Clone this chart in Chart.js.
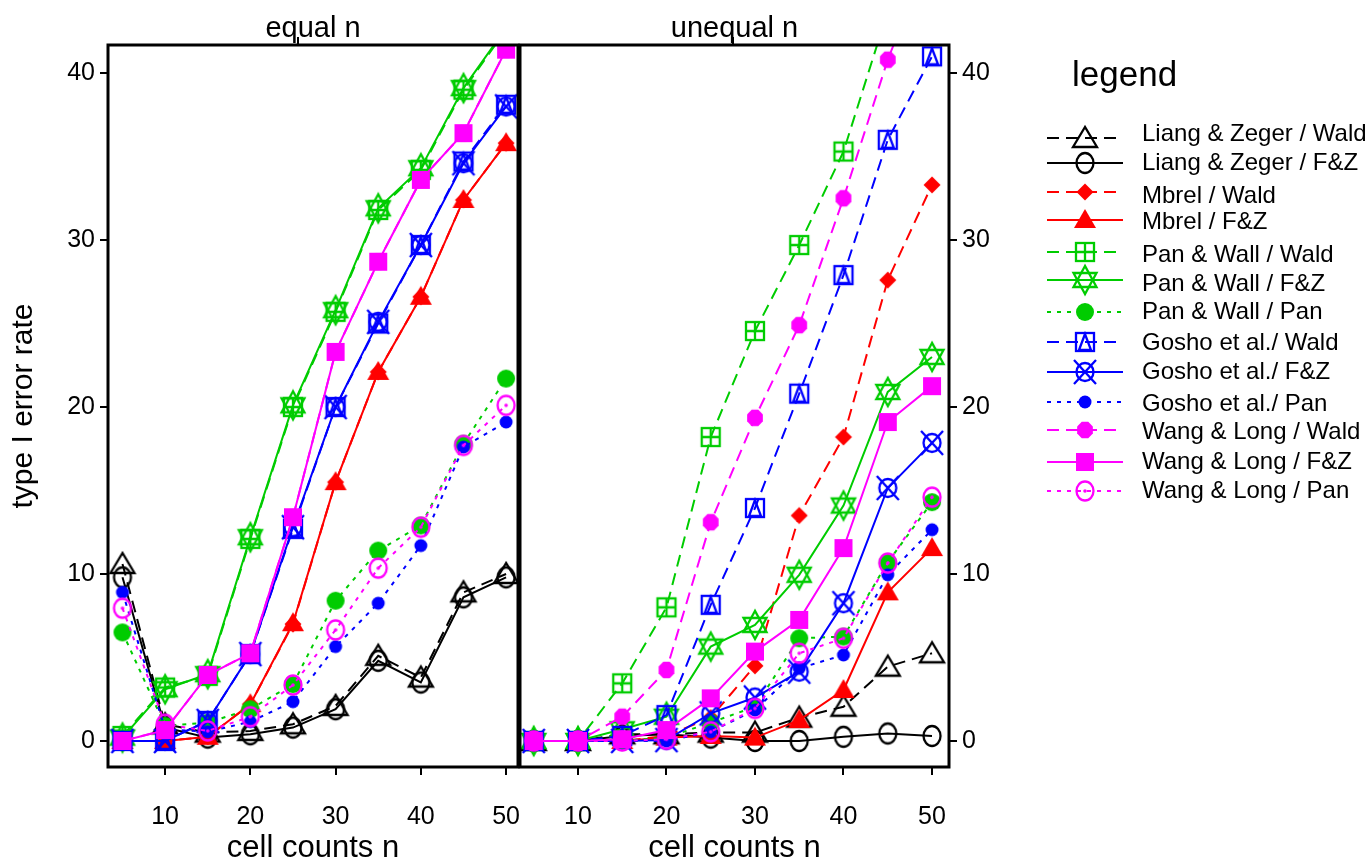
<!DOCTYPE html>
<html lang="en">
<head>
<meta charset="UTF-8">
<title>type I error rate - equal n / unequal n</title>
<script src="https://cdn.jsdelivr.net/npm/chart.js"></script>
<style>
    body { margin: 0; background: #ffffff; }
    #wrap { position: relative; width: 1371px; height: 864px; overflow: hidden; }
    #left { position: absolute; left: 0; top: 0; width: 520px; height: 864px; }
    #right { position: absolute; left: 518px; top: 0; width: 853px; height: 864px; }
</style>
</head>
<body>
<div id="wrap">
    <canvas id="left" width="520" height="864"></canvas>
    <canvas id="right" width="853" height="864"></canvas>
</div>
<script>
// x values (cell counts) and axis ticks
const cellCounts = [5, 10, 15, 20, 25, 30, 35, 40, 45, 50];
const xTickValues = [10, 20, 30, 40, 50];
const yTickValues = [0, 10, 20, 30, 40];

const seriesLabels = [
    'Liang & Zeger / Wald', 'Liang & Zeger / F&Z',
    'Mbrel / Wald', 'Mbrel / F&Z',
    'Pan & Wall / Wald', 'Pan & Wall / F&Z', 'Pan & Wall / Pan',
    'Gosho et al./ Wald', 'Gosho et al./ F&Z', 'Gosho et al./ Pan',
    'Wang & Long / Wald', 'Wang & Long / F&Z', 'Wang & Long / Pan'
];

// equal n
const eqLiangWald = [10.6, 1.0, 0.5, 0.6, 1.0, 2.1, 5.1, 3.8, 8.9, 10.0];
const eqLiangFZ   = [9.8, 0.8, 0.2, 0.4, 0.8, 1.9, 4.8, 3.5, 8.6, 9.8];
const eqMbrelWald = [0, 0, 0.25, 2.2, 7.0, 15.5, 22.1, 26.6, 32.4, 35.8];
const eqMbrelFZ   = [0, 0, 0.25, 2.2, 7.05, 15.5, 22.1, 26.6, 32.4, 35.8];
const eqPanWald   = [0.3, 3.2, 3.9, 12.1, 20.0, 25.7, 31.8, 34.2, 39.0, 42.6];
const eqPanFZ     = [0.2, 3.1, 4.0, 12.2, 20.1, 25.8, 31.9, 34.3, 39.1, 42.7];
const eqPanPan    = [6.5, 0.9, 1.1, 1.9, 3.4, 8.4, 11.4, 12.9, 17.8, 21.7];
const eqGoshoWald = [0, 0, 1.2, 5.2, 12.7, 20.0, 25.0, 29.7, 34.7, 38.1];
const eqGoshoFZ   = [0, 0, 1.2, 5.2, 12.8, 20.0, 25.1, 29.7, 34.6, 38.0];
const eqGoshoPan  = [8.9, 0.7, 0.55, 1.15, 2.35, 5.65, 8.25, 11.7, 17.6, 19.1];
const eqWangWald  = [0, 0.65, 3.95, 5.25, 13.4, 23.3, 28.7, 33.6, 36.4, 41.4];
const eqWangFZ    = [0, 0.65, 3.95, 5.25, 13.4, 23.3, 28.7, 33.6, 36.4, 41.4];
const eqWangPan   = [7.95, 1.0, 0.6, 1.45, 3.35, 6.65, 10.35, 12.8, 17.7, 20.1];

// unequal n
const unLiangWald = [0, 0, 0.4, 0.4, 0.5, 0.5, 1.4, 2.05, 4.45, 5.25];
const unLiangFZ   = [0, 0, 0.3, 0.4, 0.2, 0, 0, 0.25, 0.45, 0.3];
const unMbrelWald = [0, 0, 0, 0.3, 1.4, 4.5, 13.5, 18.2, 27.6, 33.3];
const unMbrelFZ   = [0, 0, 0, 0.2, 0.3, 0.2, 1.25, 3.05, 8.9, 11.55];
const unPanWald   = [0, 0, 3.45, 8.0, 18.2, 24.55, 29.7, 35.3, 43.7, 50.5];
const unPanFZ     = [0, 0, 0.7, 1.45, 5.65, 6.95, 9.95, 14.1, 20.9, 23.0];
const unPanPan    = [0, 0, 0, 0.2, 1.1, 2.05, 6.15, 6.25, 10.7, 14.3];
const unGoshoWald = [0, 0, 0.3, 1.55, 8.15, 13.95, 20.8, 27.9, 36.0, 41.0];
const unGoshoFZ   = [0, 0, 0, 0.05, 1.65, 2.6, 4.15, 8.25, 15.15, 17.85];
const unGoshoPan  = [0, 0, 0, 0, 0.55, 1.85, 4.35, 5.15, 9.95, 12.65];
const unWangWald  = [0, 0, 1.45, 4.25, 13.1, 19.35, 24.9, 32.5, 40.8, 47.5];
const unWangFZ    = [0, 0, 0.1, 0.65, 2.55, 5.35, 7.25, 11.55, 19.1, 21.25];
const unWangPan   = [0, 0, 0, 0.1, 0.55, 1.95, 5.25, 6.15, 10.65, 14.6];

const equalSeries = [eqLiangWald, eqLiangFZ, eqMbrelWald, eqMbrelFZ, eqPanWald, eqPanFZ, eqPanPan,
    eqGoshoWald, eqGoshoFZ, eqGoshoPan, eqWangWald, eqWangFZ, eqWangPan];
const unequalSeries = [unLiangWald, unLiangFZ, unMbrelWald, unMbrelFZ, unPanWald, unPanFZ, unPanPan,
    unGoshoWald, unGoshoFZ, unGoshoPan, unWangWald, unWangFZ, unWangPan];

const FONT = '"Liberation Sans", Arial, sans-serif';
Chart.defaults.font.family = FONT;
Chart.defaults.color = '#000';

const BLACK = '#000000', RED = '#ff0000', GREEN = '#00cc00', BLUE = '#0000ff', MAGENTA = '#ff00ff';
const DASH = [12, 7], DOT = [4, 6], SOLID = [];

const styles = [
    { color: BLACK, dash: DASH, marker: 'triOpen' },
    { color: BLACK, dash: SOLID, marker: 'circOpen' },
    { color: RED, dash: DASH, marker: 'diamond' },
    { color: RED, dash: SOLID, marker: 'triFill' },
    { color: GREEN, dash: DASH, marker: 'squarePlus' },
    { color: GREEN, dash: SOLID, marker: 'star' },
    { color: GREEN, dash: DOT, marker: 'circFill' },
    { color: BLUE, dash: DASH, marker: 'squareTri' },
    { color: BLUE, dash: SOLID, marker: 'circX' },
    { color: BLUE, dash: DOT, marker: 'dot' },
    { color: MAGENTA, dash: DASH, marker: 'octagon' },
    { color: MAGENTA, dash: SOLID, marker: 'squareFill' },
    { color: MAGENTA, dash: DOT, marker: 'circDot' }
];

// marker images used as pointStyle
function makeMarker(kind, color) {
    const s = 34, c = s / 2;
    const cv = document.createElement('canvas');
    cv.width = s; cv.height = s;
    const g = cv.getContext('2d');
    g.strokeStyle = color; g.fillStyle = color; g.lineWidth = 2.3;
    const poly = (pts, fill) => {
        g.beginPath();
        pts.forEach(([x, y], i) => i ? g.lineTo(c + x, c + y) : g.moveTo(c + x, c + y));
        g.closePath();
        fill ? g.fill() : g.stroke();
    };
    const ell = (rx, ry, fill) => {
        g.beginPath(); g.ellipse(c, c, rx, ry, 0, 0, Math.PI * 2);
        fill ? g.fill() : g.stroke();
    };
    switch (kind) {
        case 'triOpen': poly([[0, -11], [-12, 9], [12, 9]]); break;
        case 'circOpen': ell(8.5, 10); break;
        case 'diamond': poly([[0, -8.5], [8.5, 0], [0, 8.5], [-8.5, 0]], true); break;
        case 'triFill': poly([[0, -11], [-11, 8], [11, 8]], true); break;
        case 'squarePlus':
            g.strokeRect(c - 9, c - 9, 18, 18);
            g.beginPath(); g.moveTo(c, c - 9); g.lineTo(c, c + 9);
            g.moveTo(c - 9, c); g.lineTo(c + 9, c); g.stroke();
            break;
        case 'star':
            poly([[0, -14], [-11.5, 7], [11.5, 7]]);
            poly([[0, 14], [-11.5, -7], [11.5, -7]]);
            break;
        case 'circFill': ell(9, 9, true); break;
        case 'squareTri':
            g.strokeRect(c - 9, c - 9, 18, 18);
            poly([[0, -8], [-6, 8], [6, 8]]);
            break;
        case 'circX':
            ell(8.5, 9);
            g.beginPath(); g.moveTo(c - 11, c - 12); g.lineTo(c + 11, c + 12);
            g.moveTo(c + 11, c - 12); g.lineTo(c - 11, c + 12); g.stroke();
            break;
        case 'dot': ell(6.5, 6.5, true); break;
        case 'octagon': {
            const pts = [];
            for (let k = 0; k < 8; k++) {
                const a = Math.PI / 8 + k * Math.PI / 4;
                pts.push([8.5 * Math.cos(a), 9 * Math.sin(a)]);
            }
            poly(pts, true);
            break;
        }
        case 'squareFill': g.fillRect(c - 9, c - 9, 18, 18); break;
        case 'circDot':
            ell(8.5, 9.5);
            ell(1.8, 1.8, true);
            break;
    }
    return cv;
}

const markers = styles.map(st => makeMarker(st.marker, st.color));

function buildDatasets(seriesValues) {
    return seriesValues.map((vals, i) => ({
        label: seriesLabels[i],
        data: cellCounts.map((n, k) => ({ x: n, y: vals[k] })),
        borderColor: styles[i].color,
        backgroundColor: styles[i].color,
        borderDash: styles[i].dash,
        borderWidth: 2,
        pointStyle: markers[i],
        pointRadius: 10,
        tension: 0,
        fill: false,
        clip: 0,
        order: seriesValues.length - i
    }));
}

const Y_MIN = -1.56, Y_MAX = 41.68;

// frame + panel title
const framePlugin = {
    id: 'frame',
    afterDraw(chart, args, opts) {
        const { ctx, chartArea: a } = chart;
        ctx.save();
        ctx.strokeStyle = '#000';
        ctx.lineWidth = 3;
        ctx.strokeRect(a.left, a.top, a.right - a.left, a.bottom - a.top);
        ctx.lineWidth = 2;
        ctx.beginPath();
        ctx.moveTo(a.left + opts.markX, a.top - 8);
        ctx.lineTo(a.left + opts.markX, a.top);
        ctx.stroke();
        ctx.fillStyle = '#000';
        ctx.font = '29px ' + FONT;
        ctx.textAlign = 'center';
        ctx.textBaseline = 'alphabetic';
        ctx.fillText(opts.title, (a.left + a.right) / 2, 37);
        ctx.restore();
    }
};

// legend on the right side
const legendLineY = [138, 163, 192, 220, 252, 280, 312, 342, 372, 402, 430, 462, 491];
const legendTextY = [134, 163, 196, 222, 255, 284, 312, 343, 372, 404, 432, 462, 491];
const sideLegend = {
    id: 'sideLegend',
    afterDraw(chart, args, opts) {
        const ctx = chart.ctx, ox = opts.originX;
        ctx.save();
        ctx.fillStyle = '#000';
        ctx.font = '35px ' + FONT;
        ctx.textAlign = 'left';
        ctx.textBaseline = 'alphabetic';
        ctx.fillText('legend', 1072 - ox, 86);
        ctx.font = '24px ' + FONT;
        ctx.textBaseline = 'middle';
        chart.data.datasets.forEach((ds, i) => {
            const y = legendLineY[i];
            ctx.strokeStyle = ds.borderColor;
            ctx.lineWidth = 2;
            ctx.setLineDash(ds.borderDash);
            ctx.beginPath();
            ctx.moveTo(1047 - ox, y);
            ctx.lineTo(1123 - ox, y);
            ctx.stroke();
            ctx.setLineDash([]);
            const m = ds.pointStyle;
            ctx.drawImage(m, 1085 - ox - m.width / 2, y - m.height / 2);
            ctx.fillText(ds.label, 1142 - ox, legendTextY[i]);
        });
        ctx.restore();
    }
};

function zeroPadding(s) {
    s.paddingLeft = 0; s.paddingRight = 0; s.paddingTop = 0; s.paddingBottom = 0;
}

function scaleOptions(side, xMin, xMax, yWidth) {
    const tickGrid = { drawOnChartArea: false, drawTicks: true, tickLength: 8, color: '#000', lineWidth: 2 };
    return {
        x: {
            type: 'linear',
            min: xMin, max: xMax,
            afterBuildTicks: s => { s.ticks = xTickValues.map(v => ({ value: v })); },
            afterFit: s => { s.height = 97; zeroPadding(s); },
            grid: tickGrid,
            border: { display: false },
            ticks: { font: { size: 25 }, padding: 27, autoSkip: false, maxRotation: 0 },
            title: { display: true, text: 'cell counts n', font: { size: 31, lineHeight: 1 }, padding: { top: 0, bottom: 0 } }
        },
        y: {
            type: 'linear',
            position: side,
            min: Y_MIN, max: Y_MAX,
            afterBuildTicks: s => { s.ticks = yTickValues.map(v => ({ value: v })); },
            afterFit: s => { s.width = yWidth; zeroPadding(s); },
            grid: tickGrid,
            border: { display: false },
            ticks: { font: { size: 25 }, padding: 5 },
            title: side === 'left'
                ? { display: true, text: 'type I error rate', font: { size: 30, lineHeight: 1 }, padding: { top: 9, bottom: 0 } }
                : { display: false }
        }
    };
}

new Chart(document.getElementById('left'), {
    type: 'line',
    data: { datasets: buildDatasets(equalSeries) },
    options: {
        responsive: false,
        animation: false,
        layout: { autoPadding: false, padding: { top: 45, right: 2, left: 0, bottom: 0 } },
        plugins: {
            legend: { display: false },
            tooltip: { enabled: false },
            frame: { title: 'equal n', markX: 190 }
        },
        scales: scaleOptions('left', 3.3, 51.4, 108)
    },
    plugins: [framePlugin]
});

new Chart(document.getElementById('right'), {
    type: 'line',
    data: { datasets: buildDatasets(unequalSeries) },
    options: {
        responsive: false,
        animation: false,
        layout: { autoPadding: false, padding: { top: 45, right: 361, left: 2, bottom: 0 } },
        plugins: {
            legend: { display: false },
            tooltip: { enabled: false },
            frame: { title: 'unequal n', markX: 213 },
            sideLegend: { originX: 518 }
        },
        scales: scaleOptions('right', 3.45, 51.92, 61)
    },
    plugins: [framePlugin, sideLegend]
});
</script>
</body>
</html>
